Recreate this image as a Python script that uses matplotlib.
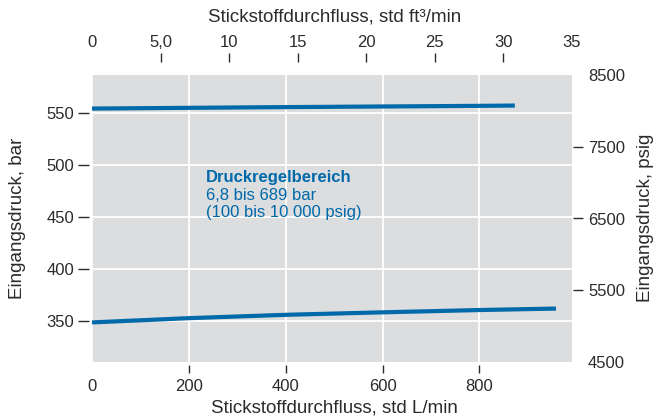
import matplotlib
matplotlib.use('Agg')
import matplotlib.pyplot as plt
import numpy as np

plt.rcParams['font.family'] = ['Liberation Sans', 'DejaVu Sans']

# Daten
flow_upper = [0, 200, 400, 600, 800, 873]          # std L/min
p_upper = [553.8, 554.5, 555.2, 555.8, 556.4, 556.7]  # bar
flow_lower = [0, 200, 400, 600, 800, 958]
p_lower = [348.3, 352.4, 355.6, 358.0, 360.2, 361.6]

L_PER_CFM = 28.3168
PSI_PER_BAR = 14.5038

bottom_ticks = [0, 200, 400, 600, 800]
top_ticks = [0, 5, 10, 15, 20, 25, 30, 35]
top_labels = ['0', '5,0', '10', '15', '20', '25', '30', '35']
left_ticks = [350, 400, 450, 500, 550]
right_ticks = [4500, 5500, 6500, 7500, 8500]

blue = '#0069aa'
txt = '#2b2b2b'
PX = 0.72  # pt pro Pixel bei dpi 100

fig = plt.figure(figsize=(6.56, 4.19), dpi=100)
ax = fig.add_axes([92/656, 57/419, 480/656, 287/419])
ax.set_facecolor('#dcdddf')
ax.set_xlim(0, 35 * L_PER_CFM)
ax.set_ylim(4500 / PSI_PER_BAR, 8500 / PSI_PER_BAR)

ax.plot(flow_upper, p_upper, color=blue, lw=3.0, solid_capstyle='butt')
ax.plot(flow_lower, p_lower, color=blue, lw=3.0, solid_capstyle='butt')

ax.set_xticks(bottom_ticks)
ax.set_yticks(left_ticks)
ax.grid(color='white', lw=1.3)
ax.set_axisbelow(True)
for s in ax.spines.values():
    s.set_visible(False)
ax.spines['left'].set_position(('outward', 3 * PX))
ax.spines['bottom'].set_position(('outward', 3 * PX))
ax.tick_params(axis='x', length=8 * PX, width=1, color=txt, labelsize=12, labelcolor=txt, pad=6 * PX)
ax.tick_params(axis='y', length=11 * PX, width=1, color=txt, labelsize=12, labelcolor=txt, pad=4 * PX)
ax.xaxis.get_major_ticks()[0].tick1line.set_visible(False)

top = ax.secondary_xaxis('top', functions=(lambda x: x / L_PER_CFM, lambda x: x * L_PER_CFM))
top.set_xticks(top_ticks)
top.set_xticklabels(top_labels)
top.spines['top'].set_visible(False)
top.spines['top'].set_position(('outward', 13 * PX))
top.tick_params(length=9 * PX, width=1, color=txt, labelsize=12, labelcolor=txt, pad=3 * PX)
for i in (0, len(top_ticks) - 1):
    top.xaxis.get_major_ticks()[i].tick2line.set_visible(False)

right = ax.secondary_yaxis('right', functions=(lambda b: b * PSI_PER_BAR, lambda p: p / PSI_PER_BAR))
right.set_yticks(right_ticks)
right.spines['right'].set_visible(False)
right.spines['right'].set_position(('outward', 1 * PX))
right.tick_params(length=10 * PX, width=1, color=txt, labelsize=12, labelcolor=txt, pad=5 * PX)
for i in (0, len(right_ticks) - 1):
    right.yaxis.get_major_ticks()[i].tick2line.set_visible(False)

# Achsentitel
fig.text(334/656, 1 - 408/419, 'Stickstoffdurchfluss, std L/min', fontsize=13.5, color=txt,
         ha='center', va='center')
fig.text(335/656, 1 - 17/419, 'Stickstoffdurchfluss, std ft³/min', fontsize=13.5, color=txt,
         ha='center', va='center')
fig.text(18/656, 1 - 218/419, 'Eingangsdruck, bar', fontsize=13.5, color=txt,
         ha='center', va='center', rotation=90)
fig.text(646/656, 1 - 218/419, 'Eingangsdruck, psig', fontsize=13.5, color=txt,
         ha='center', va='center', rotation=90)

ax.text(235, 488, 'Druckregelbereich', color=blue, fontsize=12, fontweight='bold', va='center')
ax.text(235, 470.5, '6,8 bis 689 bar', color=blue, fontsize=12, va='center')
ax.text(235, 454, '(100 bis 10 000 psig)', color=blue, fontsize=12, va='center')

fig.savefig('out.png', dpi=100)
